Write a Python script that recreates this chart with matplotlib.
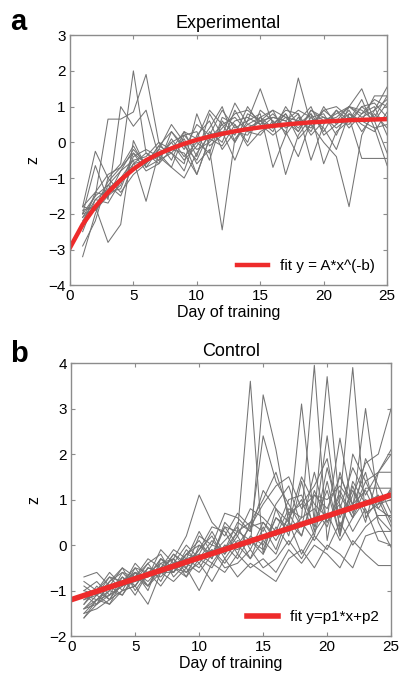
import numpy as np
import matplotlib
matplotlib.use("Agg")
from matplotlib import pyplot as plt

plt.rcParams['font.family'] = ['Liberation Sans', 'DejaVu Sans']

days = np.arange(1, 26)

# panel a: experimental animals, z per day (days 1..25)
exp_z = [
    [-1.8, -0.25, -1.0, -0.6, 2.0, -0.3, -0.6, 0.3, -0.2, 0.5, 0.2, 0.9, 0.4, 0.6, 1.5, 0.5, 0.8, 0.3, 0.9, 0.6, 0.7, 1.0, 0.8, 1.2, 1.0],
    [-2.1, -1.5, 0.65, 0.65, 0.85, 1.9, 0.0, -0.2, 0.3, -0.4, 0.8, 0.2, 1.1, 0.5, 0.7, 0.9, 0.2, 1.8, 0.5, 0.9, 0.6, 0.5, 1.0, 0.7, 1.3],
    [-2.0, -0.65, -1.6, 1.0, 0.45, 0.9, -0.4, 0.0, -0.5, -0.1, 0.4, 1.0, 0.0, 0.8, 0.6, 0.3, 1.0, 0.5, 0.8, 0.3, 0.9, 0.6, 1.0, 1.1, 0.7],
    [-1.9, -1.8, -2.8, -2.3, 0.05, -0.7, -0.2, 0.5, 0.0, -0.9, 0.1, 0.5, 0.7, 0.3, 0.2, 0.6, -0.9, 0.2, 0.7, 0.4, -0.2, 0.8, 0.5, 0.3, 0.85],
    [-2.2, -1.6, -1.3, -1.0, -0.5, -1.65, -0.3, -0.7, 0.2, 0.3, -0.5, 0.6, 0.2, 1.0, 0.5, 0.8, 0.4, 0.6, 1.0, 0.2, 0.5, 0.9, 0.3, 0.8, 0.4],
    [-3.2, -2.0, -1.2, -1.5, -0.6, -0.3, -0.5, -0.3, 0.1, -0.6, -0.2, -2.45, 0.1, 0.5, 0.4, 0.7, 0.6, 0.3, 0.9, 0.7, 0.6, 1.0, 0.7, 0.9, 1.2],
    [-2.0, -1.5, -1.2, -0.8, -0.2, -0.6, -0.1, -0.3, -0.8, 0.2, 0.6, -0.2, 0.3, 0.2, 0.7, 0.4, 0.8, 0.1, 0.5, 0.0, -0.4, -1.8, 0.2, 0.9, 1.55],
    [-2.3, -1.4, -1.5, -0.8, -0.5, -0.4, 0.0, -0.5, 0.3, 0.1, 0.9, 0.5, 0.0, 0.6, 0.8, -0.7, 0.2, 0.7, 0.3, 1.0, 0.5, 0.8, 0.6, 0.4, 0.5],
    [-1.8, -1.9, -1.5, -1.2, -0.3, -0.8, -0.6, -0.2, -0.3, -0.9, 0.1, -0.1, 0.5, 0.0, 0.9, 0.6, 0.3, -0.4, 0.6, 0.7, 0.4, 0.7, -0.45, -0.45, -0.45],
    [-2.5, -1.6, -1.7, -1.1, -0.6, -0.5, -0.4, -0.7, -1.0, -0.3, 0.2, 0.3, -0.5, 0.4, 0.6, 0.9, 0.7, 0.4, 0.8, -0.6, 0.3, 0.6, 1.2, 0.4, -0.65],
    [-2.1, -1.8, -1.1, -0.7, -0.1, -0.7, -0.5, 0.1, -0.4, 0.0, -0.3, 0.7, 0.5, -0.1, 0.3, 0.5, 0.9, 0.8, 0.2, 0.6, 0.8, 1.0, 1.5, 0.6, -0.3],
    [-2.9, -2.2, -1.0, -1.4, -0.9, -0.6, -0.2, -0.3, -0.6, 0.8, -0.1, 0.2, 0.6, 0.7, 0.5, 0.2, 0.5, 0.8, -0.5, 0.5, 0.9, 0.4, 0.8, 1.0, 0.2],
    [-1.8, -1.4, -0.9, -0.7, -0.3, -0.6, -0.1, 0.3, -0.1, -0.5, 0.3, 0.0, 0.9, 0.3, 0.6, 0.7, 0.6, 0.9, 0.7, 0.8, 0.2, 1.0, 0.9, 0.6, 1.1],
    [-2.0, -1.9, -1.4, -1.3, -0.4, -0.2, -0.4, 0.0, 0.2, -0.2, 0.0, 0.4, 0.8, 0.9, 0.6, 0.4, 0.7, 0.6, 0.4, 0.9, 1.0, 0.7, 0.6, 1.3, 1.3],
]

fit_a_x = np.arange(0, 26)
fit_a_y = [-2.95, -2.3, -1.8, -1.4, -1.05, -0.75, -0.5, -0.32, -0.17, -0.04, 0.07, 0.16, 0.24, 0.31, 0.37, 0.42, 0.46, 0.5, 0.53, 0.56, 0.58, 0.6, 0.62, 0.63, 0.64, 0.65]

# panel b: control animals
ctl_z = [
    [-1.2, -1.1, -0.9, -0.8, -0.6, -0.7, -0.3, -0.5, -0.2, 0.1, -0.3, 0.4, 0.3, 3.6, -0.2, 0.8, 0.2, 1.4, 0.3, 1.7, 0.6, 1.2, 0.7, 0.9, 1.0],
    [-1.4, -1.3, -1.0, -0.7, -0.9, -0.5, -0.6, -0.2, -0.5, -0.1, 0.2, -0.3, 0.1, 0.0, 3.3, 2.1, 0.5, 0.2, 1.1, 0.8, 1.5, 0.9, 1.2, 0.6, 0.3],
    [-1.0, -0.8, -1.1, -0.6, -0.7, -0.9, -0.4, -0.6, -0.1, -0.4, 0.0, -0.1, 0.5, 0.3, 2.4, 1.4, 0.9, 0.4, 1.6, 0.5, 1.1, 0.6, 1.9, 1.3, 0.7],
    [-1.5, -1.2, -1.1, -0.9, -0.6, -0.8, -0.5, -0.3, -0.6, -0.2, -0.4, 0.0, -0.3, 0.2, 0.0, 0.6, 0.4, 3.1, 0.5, 1.2, 0.2, 1.4, 0.9, 1.1, 0.5],
    [-0.9, -1.1, -0.7, -1.0, -0.5, -0.6, -0.7, -0.4, -0.3, 0.3, -0.2, 0.1, 0.4, -0.1, 0.5, 0.2, 0.8, 0.6, 3.95, 0.1, 1.6, 0.7, 1.4, 0.8, 1.25],
    [-1.3, -0.9, -1.2, -0.8, -0.8, -0.4, -0.2, -0.7, -0.4, -0.1, 0.4, 0.3, -0.2, 0.5, 0.3, 0.9, 1.3, 0.4, 0.6, 3.7, 0.8, 1.7, 1.1, 1.6, 1.6],
    [-1.1, -1.3, -0.8, -0.5, -1.0, -0.6, -0.4, -0.3, -0.7, 0.0, -0.3, 0.5, 0.2, 0.8, 0.6, 0.3, 1.0, 1.1, 0.4, 2.4, 0.3, 1.3, 0.5, 1.6, 2.0],
    [-1.6, -1.2, -1.0, -1.1, -0.7, -0.3, -0.5, -0.6, -0.2, -0.3, -0.1, -0.4, 0.0, -0.3, 0.4, -0.1, 0.7, 0.2, 1.2, 0.5, 1.0, 3.9, 0.6, 1.0, 0.4],
    [-1.2, -1.0, -0.6, -0.9, -0.4, -0.7, -0.1, -0.4, -0.5, 0.2, 0.0, 0.7, 0.6, 0.3, 1.2, 0.8, 0.5, 1.5, 0.9, 0.6, 2.35, 0.8, 3.0, 0.9, 1.2],
    [-1.4, -1.1, -1.3, -0.8, -0.6, -0.9, -0.6, -0.2, -0.4, -0.6, -0.2, -0.1, 0.3, 0.5, 1.0, 1.6, 0.7, 0.9, 1.3, 1.9, 0.4, 1.1, 1.8, 2.0, 3.0],
    [-0.7, -0.6, -0.9, -0.5, -0.7, -0.4, -0.8, -0.3, 0.2, 1.1, 0.5, 0.2, 0.7, 0.4, 0.9, 1.3, 1.5, 0.8, 1.1, 1.0, 1.3, 0.9, 1.6, 0.5, -0.05],
    [-1.5, -1.4, -1.2, -1.0, -0.9, -1.3, -0.6, -0.8, -0.5, -1.0, -0.4, -0.6, -0.2, -0.5, -0.3, -0.6, -0.1, -0.4, 0.0, -0.2, -0.5, 0.1, -0.2, -0.45, -0.45],
    [-1.3, -1.0, -1.2, -0.7, -1.1, -0.6, -0.9, -0.5, -0.6, -0.4, -0.8, -0.3, -0.7, -0.4, -0.6, -0.8, -0.3, -0.1, -0.5, 0.0, -0.2, -0.5, 0.2, 0.3, 0.3],
    [-1.1, -1.2, -0.9, -1.1, -0.6, -1.0, -0.3, -0.6, -0.3, -0.5, -0.1, -0.5, -0.4, -0.1, -0.5, -0.3, 0.1, -0.3, 0.2, -0.1, 0.5, 0.0, 0.4, 0.65, 0.65],
    [-0.8, -1.0, -0.7, -0.8, -0.5, -0.9, -0.5, -0.1, -0.3, -0.2, 0.3, -0.2, 0.2, -0.3, 0.1, -0.2, 0.5, -0.2, 0.3, 0.7, 0.1, 0.6, 1.25, 1.25, 1.25],
    [-1.6, -1.3, -1.1, -0.9, -0.8, -0.7, -0.3, -0.5, -0.7, -0.3, -0.5, 0.0, -0.1, 0.1, -0.2, 0.4, 0.0, 0.5, 0.1, 0.6, 0.9, 0.3, 0.8, 0.1, 0.0],
    [-1.0, -1.1, -0.8, -0.6, -0.9, -0.5, -0.6, -0.4, 0.0, -0.3, 0.1, -0.2, 0.3, 0.1, -0.1, 0.6, 0.3, 0.6, 0.8, 0.4, 1.2, 0.6, 1.0, 0.8, 0.6],
    [-1.4, -1.2, -1.3, -1.0, -0.9, -0.5, -0.6, -0.6, -0.2, 0.0, -0.2, 0.4, 0.0, 0.4, 0.5, 0.1, 0.6, 1.0, 0.2, 1.4, 0.2, 2.0, 1.4, 1.6, 2.1],
]

# linear fit for panel b (end points)
fit_b_x = [0, 25]
fit_b_y = [-1.2, 1.1]

spine_col = '#8c8c8c'
line_col = '#747474'
red = '#ee2b2b'

fig = plt.figure(figsize=(4.02, 6.76), dpi=100)
ax1 = fig.add_axes([0.174, 0.578, 0.789, 0.370])
ax2 = fig.add_axes([0.177, 0.059, 0.796, 0.404])


def style(ax, ylim, yticks):
    ax.set_xlim(0, 25)
    ax.set_ylim(*ylim)
    ax.set_xticks([0, 5, 10, 15, 20, 25])
    ax.set_yticks(yticks)
    ax.set_yticklabels([str(v).replace('-', '\u2212') for v in yticks])
    ax.tick_params(direction='in', top=True, right=True, labelsize=11,
                   color=spine_col, length=3, width=0.8, pad=3)
    for s in ax.spines.values():
        s.set_color(spine_col)
        s.set_linewidth(1.0)
    ax.set_xlabel('Day of training', fontsize=11.5, labelpad=1)
    ax.set_ylabel('z', fontsize=11.5, labelpad=6)


for row in exp_z:
    ax1.plot(days, row, color=line_col, lw=0.75)
ax1.plot(fit_a_x, fit_a_y, color=red, lw=3.2, label='fit y = A*x^(-b)')
style(ax1, (-4, 3), list(range(-4, 4)))
ax1.set_title('Experimental', fontsize=13, pad=5)
ax1.legend(loc='lower right', frameon=False, fontsize=11, handlelength=2.0,
           handletextpad=0.8, borderaxespad=0.4)

for row in ctl_z:
    ax2.plot(days, row, color=line_col, lw=0.75)
ax2.plot(fit_b_x, fit_b_y, color=red, lw=4.0, label='fit y=p1*x+p2')
style(ax2, (-2, 4), list(range(-2, 5)))
ax2.set_title('Control', fontsize=13, pad=5)
ax2.legend(loc='lower right', frameon=False, fontsize=11, handlelength=2.0,
           handletextpad=0.8, borderaxespad=0.4)

fig.text(0.025, 0.955, 'a', fontsize=21, fontweight='bold')
fig.text(0.025, 0.465, 'b', fontsize=21, fontweight='bold')

fig.savefig('out.png', dpi=100)
